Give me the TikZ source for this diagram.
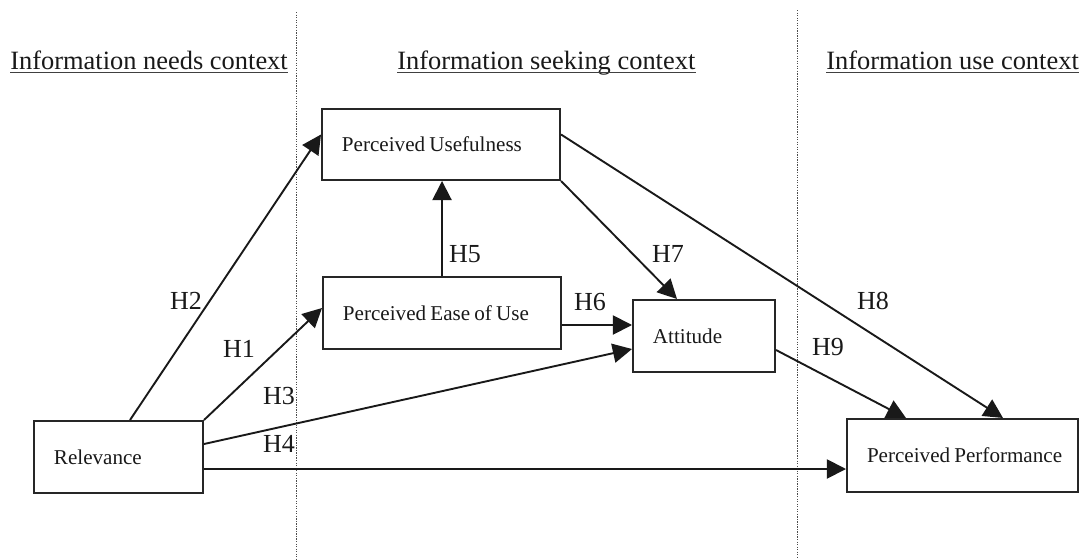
\documentclass[tikz,border=0pt]{standalone}
\usepackage{fontspec}
\setmainfont{Liberation Serif}
\usetikzlibrary{arrows.meta}
% slightly tighter word spacing inside the construct boxes
\newcommand\boxlabel[1]{\spaceskip=0.2em\relax\mbox{#1}}
\begin{document}
\begin{tikzpicture}[x=0.025cm,y=-0.025cm,
  box/.style={draw=black!85,line width=1.4pt,rectangle,anchor=north west,
    inner xsep=0.5cm,inner ysep=0pt,align=left,
    font=\fontsize{15}{18}\selectfont,text=black!90},
  link/.style={draw=black!90,line width=1.35pt,-{Triangle[length=0.48cm,width=0.48cm]}},
  hyp/.style={font=\fontsize{18.5}{22}\selectfont,text=black!90,inner sep=0pt},
  head/.style={font=\fontsize{18.8}{22}\selectfont,text=black!90,inner sep=0pt,anchor=base west},
  zone/.style={draw=black!70,line width=0.8pt,dash pattern=on 0.9pt off 0.9pt}]
\useasboundingbox (0,0) rectangle (1084,559);

% context dividers
\coordinate (d1t) at (296.5,12);
\coordinate (d1b) at (296.5,559);
\coordinate (d2t) at (797.5,10);
\coordinate (d2b) at (797.5,559);
\draw[zone] (d1t) -- (d1b);
\draw[zone] (d2t) -- (d2b);

% context headings, underlined
\node[head] (cneeds) at (10,69) {Information needs context};
\node[head] (cseek) at (397,69) {Information seeking context};
\node[head] (cuse) at (826,69) {Information use context};
\foreach \h in {cneeds,cseek,cuse}
  \draw[black!75,line width=0.9pt] ([yshift=-0.09cm]\h.base west) -- ([yshift=-0.09cm]\h.base east);

% constructs
\node[box,text width=3.225cm,minimum height=1.8cm] (rel) at (33,420) {\boxlabel{Relevance}};
\node[box,text width=4.95cm,minimum height=1.775cm] (pu) at (321,108) {\boxlabel{Perceived Usefulness}};
\node[box,text width=4.95cm,minimum height=1.8cm] (pe) at (322,276) {\boxlabel{Perceived Ease of Use}};
\node[box,text width=2.55cm,minimum height=1.8cm] (att) at (632,299) {\boxlabel{Attitude}};
\node[box,text width=4.775cm,minimum height=1.825cm] (pp) at (846,418) {\boxlabel{Perceived Performance}};

% hypothesised paths
\draw[link] ([xshift=2.425cm]rel.north west) -- ([yshift=0.25cm]pu.west);
\draw[link] (rel.north east) -- ([yshift=0.125cm]pe.west);
\draw[link] ([yshift=0.325cm]rel.east) -- ([yshift=-0.325cm]att.west);
\coordinate (h4s) at ([yshift=-0.3cm]rel.east);
\draw[link] (h4s) -- (h4s -| pp.west);
\draw[link] (pe.north) -- (pe.north |- pu.south);
\coordinate (h6s) at ([yshift=-0.3cm]pe.east);
\draw[link] (h6s) -- (h6s -| att.west);
\draw[link] (pu.south east) -- ([xshift=-0.675cm]att.north);
\draw[link] ([yshift=0.25cm]pu.east) -- ([xshift=1.0125cm]pp.north);
\draw[link] ([yshift=-0.35cm]att.east) -- ([xshift=-1.4125cm]pp.north);

% hypothesis labels
\node[hyp] (l2) at (186,301) {H2};
\node[hyp] (l1) at (239,349) {H1};
\node[hyp] (l3) at (279,396) {H3};
\node[hyp] (l4) at (279,444) {H4};
\node[hyp] (l5) at (465,254) {H5};
\node[hyp] (l6) at (590,302) {H6};
\node[hyp] (l7) at (668,254) {H7};
\node[hyp] (l8) at (873,301) {H8};
\node[hyp] (l9) at (828,347) {H9};
\end{tikzpicture}
\end{document}
